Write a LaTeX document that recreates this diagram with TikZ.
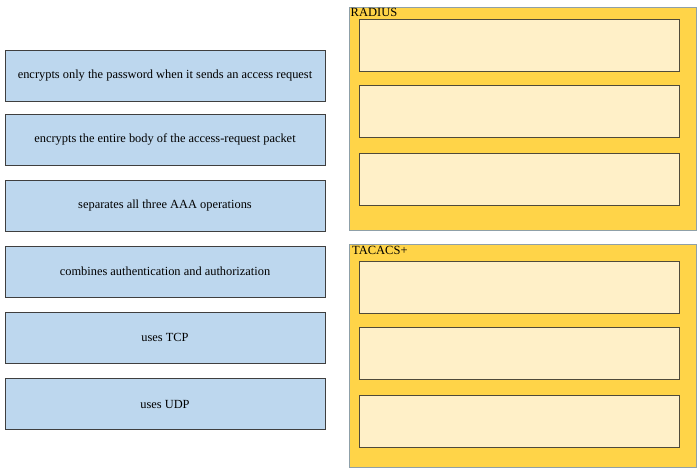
\documentclass[tikz,border=0pt]{standalone}
\usepackage{fontspec}
\setmainfont{Liberation Serif}
\definecolor{itemfill}{HTML}{BDD7EE}
\definecolor{itemdraw}{HTML}{3F3F3F}
\definecolor{groupfill}{HTML}{FFD448}
\definecolor{groupdraw}{HTML}{8FA0A8}
\definecolor{slotfill}{HTML}{FFF0C8}
\definecolor{slotdraw}{HTML}{4F4A3A}
\tikzset{
  itembox/.style={draw=itemdraw, fill=itemfill, line width=0.9pt, minimum width=320pt, minimum height=51pt, inner sep=0pt, font=\fontsize{12.4}{14}\selectfont},
  groupbox/.style={draw=groupdraw, fill=groupfill, line width=0.7pt, minimum width=347pt, minimum height=223pt, inner sep=0pt},
  slotbox/.style={draw=slotdraw, fill=slotfill, line width=0.9pt, minimum width=320pt, minimum height=52pt, inner sep=0pt},
  grouplabel/.style={anchor=north west, inner sep=0pt, font=\fontsize{12.5}{13}\selectfont}
}
\begin{document}
\begin{tikzpicture}[x=1pt, y=-1pt]
\useasboundingbox[fill=white] (0,0) rectangle (700,472);
% left items
\node[itembox] (i1) at (165,75.5) {\raisebox{-1pt}{encrypts only the password when it sends an access request}};
\node[itembox] (i2) at (165,139.5) {\raisebox{-1pt}{encrypts the entire body of the access-request packet}};
\node[itembox] (i3) at (165,205.5) {\raisebox{-1pt}{separates all three AAA operations}};
\node[itembox] (i4) at (165,271.5) {\raisebox{-1pt}{combines authentication and authorization}};
\node[itembox] (i5) at (165,337.5) {\raisebox{-1pt}{uses TCP}};
\node[itembox] (i6) at (165,404) {\raisebox{-1pt}{uses UDP}};
% RADIUS group
\node[groupbox] (g1) at (522.5,118.5) {};
\node[grouplabel] (l1) at (350.5,8) {RADIUS};
\node[slotbox] (r1) at (519,45) {};
\node[slotbox] (r2) at (519,111) {};
\node[slotbox] (r3) at (519,179) {};
% TACACS+ group
\node[groupbox] (g2) at (522.5,355.5) {};
\node[grouplabel] (l2) at (352,246) {TACACS+};
\node[slotbox] (t1) at (519.5,287) {};
\node[slotbox] (t2) at (519.5,353) {};
\node[slotbox] (t3) at (519.5,421) {};
\end{tikzpicture}
\end{document}
